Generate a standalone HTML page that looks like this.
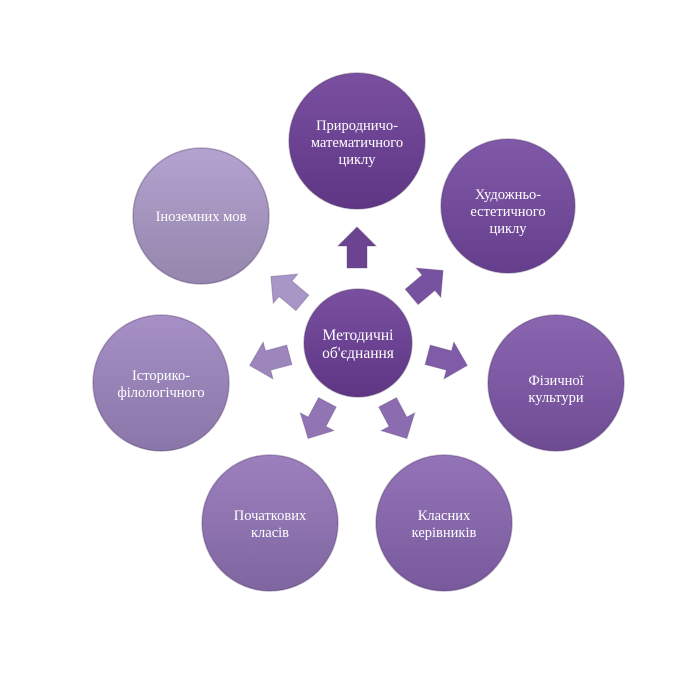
<!DOCTYPE html>
<html><head><meta charset="utf-8"><style>
html,body{margin:0;padding:0;background:#fff;}
svg text{font-family:"Liberation Serif",serif;font-size:14.5px;fill:#fff;text-anchor:middle;}
</style></head><body>
<svg width="700" height="671" viewBox="0 0 700 671" xmlns="http://www.w3.org/2000/svg">
<defs>
<linearGradient id="g1" x1="0" y1="0" x2="0" y2="1"><stop offset="0" stop-color="#7a4fa0"/><stop offset="1" stop-color="#5e3684"/></linearGradient>
<linearGradient id="g2" x1="0" y1="0" x2="0" y2="1"><stop offset="0" stop-color="#8059a8"/><stop offset="1" stop-color="#653e8c"/></linearGradient>
<linearGradient id="g3" x1="0" y1="0" x2="0" y2="1"><stop offset="0" stop-color="#8a66b0"/><stop offset="1" stop-color="#6e4c94"/></linearGradient>
<linearGradient id="g4" x1="0" y1="0" x2="0" y2="1"><stop offset="0" stop-color="#9474b8"/><stop offset="1" stop-color="#785a9c"/></linearGradient>
<linearGradient id="g5" x1="0" y1="0" x2="0" y2="1"><stop offset="0" stop-color="#9c80be"/><stop offset="1" stop-color="#7f66a0"/></linearGradient>
<linearGradient id="g6" x1="0" y1="0" x2="0" y2="1"><stop offset="0" stop-color="#a690c6"/><stop offset="1" stop-color="#8a76a8"/></linearGradient>
<linearGradient id="g7" x1="0" y1="0" x2="0" y2="1"><stop offset="0" stop-color="#b4a2d0"/><stop offset="1" stop-color="#9486ac"/></linearGradient>
<g id="arr"><path d="M-20,-10 L2,-10 L2,-19 L21,0 L2,19 L2,10 L-20,10 Z" stroke="#5a4070" stroke-opacity="0.35" stroke-width="1"/></g>
</defs>
<g stroke="#4a3060" stroke-opacity="0.35" stroke-width="1.5">
<circle cx="357" cy="141" r="68" fill="url(#g1)"/>
<circle cx="508" cy="206" r="67" fill="url(#g2)"/>
<circle cx="556" cy="383" r="68" fill="url(#g3)"/>
<circle cx="444" cy="523" r="68" fill="url(#g4)"/>
<circle cx="270" cy="523" r="68" fill="url(#g5)"/>
<circle cx="161" cy="383" r="68" fill="url(#g6)"/>
<circle cx="201" cy="216" r="68" fill="url(#g7)"/>
<circle cx="358" cy="343" r="54" fill="url(#g1)"/>
</g>
<g fill="#6c4390"><use href="#arr" transform="translate(357,248) rotate(-90)"/></g>
<g fill="#7752a0"><use href="#arr" transform="translate(427,284) rotate(-40)"/></g>
<g fill="#805ca8"><use href="#arr" transform="translate(447,360) rotate(15)"/></g>
<g fill="#8c6cb0"><use href="#arr" transform="translate(397,420) rotate(62)"/></g>
<g fill="#9174b4"><use href="#arr" transform="translate(318,420) rotate(118)"/></g>
<g fill="#9c86bc"><use href="#arr" transform="translate(270,360) rotate(165)"/></g>
<g fill="#a896c6"><use href="#arr" transform="translate(287,290) rotate(-140)"/></g>
<text x="357" y="130">Природничо-</text>
<text x="357" y="147">математичного</text>
<text x="357" y="164">циклу</text>
<text x="508" y="199">Художньо-</text>
<text x="508" y="216">естетичного</text>
<text x="508" y="233">циклу</text>
<text x="556" y="385">Фізичної</text>
<text x="556" y="402">культури</text>
<text x="444" y="520">Класних</text>
<text x="444" y="537">керівників</text>
<text x="270" y="520">Початкових</text>
<text x="270" y="537">класів</text>
<text x="161" y="380">Історико-</text>
<text x="161" y="397">філологічного</text>
<text x="201" y="221">Іноземних мов</text>
<text x="358" y="340" style="font-size:15.5px">Методичні</text>
<text x="358" y="358" style="font-size:15.5px">об'єднання</text>
</svg>
</body></html>
